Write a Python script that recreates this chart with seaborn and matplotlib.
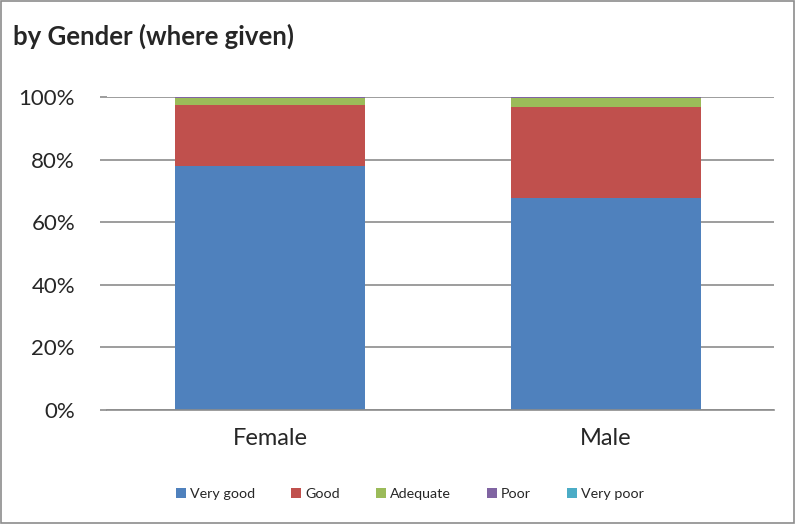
import pandas as pd
import matplotlib.pyplot as plt
import seaborn as sns
from matplotlib.patches import Patch, Rectangle
from matplotlib.ticker import PercentFormatter

genders = ['Female', 'Male']
ratings = ['Very good', 'Good', 'Adequate', 'Poor', 'Very poor']
very_good = [77.8, 67.6]
good = [19.5, 29.2]
adequate = [2.4, 2.8]
poor = [0.3, 0.4]
very_poor = [0.0, 0.0]
colors = ['#4F81BD', '#C0504D', '#9BBB59', '#8064A2', '#4BACC6']

sns.set_style('white')
plt.rcParams['font.family'] = ['Lato', 'DejaVu Sans']

df = pd.DataFrame({'Gender': genders, 'Very good': very_good, 'Good': good,
                   'Adequate': adequate, 'Poor': poor, 'Very poor': very_poor})
cum = df[ratings].cumsum(axis=1)
cum['Gender'] = df['Gender']

fig = plt.figure(figsize=(7.96, 5.24), dpi=100)
ax = fig.add_axes([107 / 796, 1 - 410 / 524, 667 / 796, 313 / 524])

# draw from the top of the stack down so lower segments sit in front
for name, col in reversed(list(zip(ratings, colors))):
    sns.barplot(cum, x='Gender', y=name, color=col, width=0.565,
                saturation=1, linewidth=0, ax=ax, zorder=2)

ax.set_ylim(0, 100)
ax.set_xlim(-0.485, 1.5)
ax.set_yticks(range(0, 101, 20))
ax.yaxis.set_major_formatter(PercentFormatter(decimals=0))
ax.grid(axis='y', color='#8c8c8c', linewidth=1.2, zorder=0)
ax.set_axisbelow(True)
ax.set_xlabel('')
ax.set_ylabel('')
for side in ['top', 'right', 'left']:
    ax.spines[side].set_visible(False)
ax.spines['bottom'].set_color('#8c8c8c')
ax.spines['bottom'].set_linewidth(1.2)
ax.tick_params(axis='y', labelsize=16, length=5, width=1.2, color='#8c8c8c',
               left=True, pad=18)
ax.tick_params(axis='x', labelsize=17, length=0, pad=13)

fig.text(13 / 796, 1 - 36 / 524, 'by Gender (where given)', fontsize=18.5,
         fontweight='bold', va='center', ha='left')

handles = [Patch(facecolor=c, edgecolor='none') for c in colors]
fig.legend(handles, ratings, loc='center', bbox_to_anchor=(410 / 796, 1 - 494 / 524),
           ncol=5, frameon=False, fontsize=10.3, handlelength=0.7, handleheight=0.7,
           handletextpad=0.3, columnspacing=2.5)

fig.patches.append(Rectangle((0.001, 0.001), 0.997, 0.997, transform=fig.transFigure,
                             fill=False, edgecolor='#8c8c8c', linewidth=1.2))

fig.savefig('out.png', dpi=100)
